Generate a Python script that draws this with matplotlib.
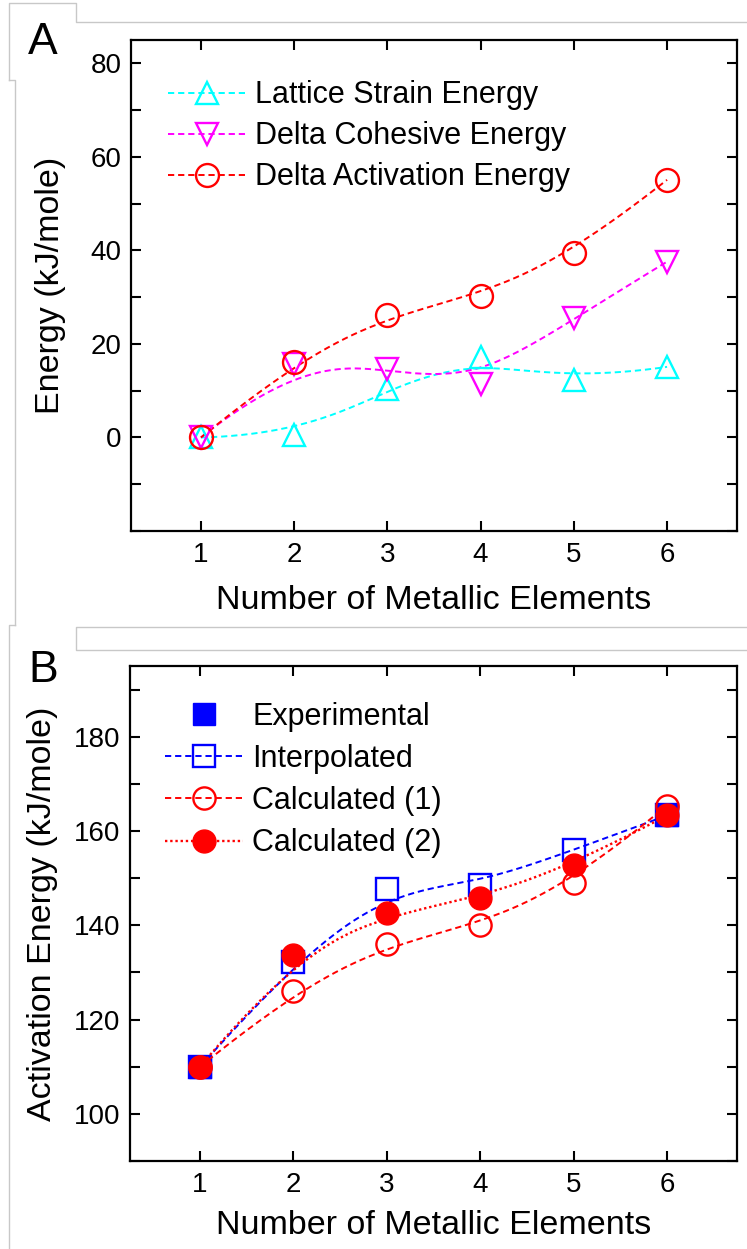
import numpy as np
import matplotlib
matplotlib.use("Agg")
import matplotlib.pyplot as plt
from matplotlib.lines import Line2D
from matplotlib.ticker import MultipleLocator

plt.rcParams['font.family'] = ['Liberation Sans', 'DejaVu Sans']

# ---------------- data ----------------
n_elements = [1, 2, 3, 4, 5, 6]

# Panel A
lattice_strain = [0.0, 0.5, 10.4, 17.2, 12.2, 15.1]
delta_cohesive = [0.0, 15.8, 14.7, 11.5, 25.5, 37.6]
delta_activation = [0.0, 16.2, 26.2, 30.3, 39.4, 55.1]
labels_a = ["Lattice Strain Energy", "Delta Cohesive Energy", "Delta Activation Energy"]

# Panel B
exp_x = [1, 6]
experimental = [110.0, 163.3]
interpolated = [110.0, 132.2, 147.8, 148.5, 156.0, 163.3]
calculated_1 = [110.0, 126.0, 136.1, 140.0, 149.0, 165.4]
calculated_2 = [110.0, 133.6, 142.5, 145.7, 152.8, 163.3]
labels_b = ["Experimental", "Interpolated", "Calculated (1)", "Calculated (2)"]


def bspline(xs, ys, npts=300, k=3):
    """Clamped uniform cubic B-spline curve using the points as control points."""
    P = np.column_stack([np.asarray(xs, float), np.asarray(ys, float)])
    m = len(P)
    knots = np.concatenate([[0] * k, np.arange(0, m - k + 1), [m - k] * k]).astype(float)
    t = np.linspace(0, m - k, npts)
    t[-1] -= 1e-9

    def basis(i, p, tt):
        if p == 0:
            return np.where((knots[i] <= tt) & (tt < knots[i + 1]), 1.0, 0.0)
        out = np.zeros_like(tt)
        d1 = knots[i + p] - knots[i]
        d2 = knots[i + p + 1] - knots[i + 1]
        if d1 > 0:
            out += (tt - knots[i]) / d1 * basis(i, p - 1, tt)
        if d2 > 0:
            out += (knots[i + p + 1] - tt) / d2 * basis(i + 1, p - 1, tt)
        return out

    B = np.array([basis(i, k, t) for i in range(m)])
    C = B.T @ P
    return C[:, 0], C[:, 1]


W, H = 747, 1249
fig = plt.figure(figsize=(W / 100, H / 100), dpi=100)

# background frame lines (document frame artifacts)
gray = '#c8c8c8'
def fline(xs, ys):
    fig.add_artist(Line2D([x / W for x in xs], [1 - y / H for y in ys],
                          color=gray, lw=1.0, transform=fig.transFigure))
fline([9, 9, 76, 76, 747], [80, 3, 3, 22, 22])
fline([9, 15, 15], [80, 80, 625])
fline([15, 9, 9], [625, 625, 1249])
fline([747, 76, 76, 747], [627, 627, 650, 650])

dash = (0, (3.2, 2.0))
dot = (0, (1.0, 1.2))
LW = 1.4
FS_TICK = 20
FS_LAB = 24.5
FS_LEG = 22
MEW = 1.7


def style_axis(ax, ylim, ymaj, ymin):
    ax.set_xlim(0.25, 6.75)
    ax.set_ylim(*ylim)
    ax.xaxis.set_major_locator(MultipleLocator(1))
    ax.yaxis.set_major_locator(MultipleLocator(ymaj))
    ax.yaxis.set_minor_locator(MultipleLocator(ymin))
    for s in ax.spines.values():
        s.set_linewidth(1.6)
    ax.tick_params(which='both', direction='in', top=True, right=True,
                   width=1.5, labelsize=FS_TICK)
    ax.tick_params(which='major', length=7)
    ax.tick_params(which='minor', length=7)
    ax.tick_params(axis='x', pad=8)
    ax.tick_params(axis='y', pad=7)


# ---------------- Panel A ----------------
axA = fig.add_axes([131 / W, 1 - 531 / H, (737 - 131) / W, (531 - 40) / H])
style_axis(axA, (-20, 85), 20, 10)
axA.set_yticks([0, 20, 40, 60, 80])

series_a = [
    (lattice_strain, 'cyan', '^', 16),
    (delta_cohesive, 'magenta', 'v', 16),
    (delta_activation, 'red', 'o', 16.5),
]
handles_a = []
for (vals, col, mk, ms), lab in zip(series_a, labels_a):
    sx, sy = bspline(n_elements, vals)
    axA.plot(sx, sy, color=col, lw=LW, ls=dash, zorder=2)
    axA.plot(n_elements, vals, ls='none', marker=mk, ms=ms, mfc='none',
             mec=col, mew=MEW, zorder=3)
    handles_a.append(Line2D([], [], color=col, lw=LW, ls=dash, marker=mk, ms=ms,
                            mfc='none', mec=col, mew=MEW))
axA.legend(handles_a, labels_a, loc='upper left', bbox_to_anchor=(0.061, 0.918),
           frameon=False, fontsize=FS_LEG, handlelength=2.55, handletextpad=0.3,
           labelspacing=0.36, borderpad=0, borderaxespad=0, numpoints=1)
axA.set_xlabel("Number of Metallic Elements", fontsize=FS_LAB)
axA.set_ylabel("Energy (kJ/mole)", fontsize=FS_LAB)
axA.xaxis.set_label_coords(0.5, -0.11)
axA.yaxis.set_label_coords(-0.108, 0.5)
fig.text(43 / W, 1 - 43 / H, "A", fontsize=32, ha='center', va='center')

# ---------------- Panel B ----------------
axB = fig.add_axes([130 / W, 1 - 1161 / H, (737 - 130) / W, (1161 - 666) / H])
style_axis(axB, (90, 195), 20, 10)
axB.set_yticks([100, 120, 140, 160, 180])

axB.plot(exp_x, experimental, ls='none', marker='s', ms=15.5, color='blue', zorder=2)
sx, sy = bspline(n_elements, interpolated)
axB.plot(sx, sy, color='blue', lw=LW, ls=dash, zorder=3)
axB.plot(n_elements, interpolated, ls='none', marker='s', ms=15.5, mfc='none',
         mec='blue', mew=MEW, zorder=3)
sx, sy = bspline(n_elements, calculated_1)
axB.plot(sx, sy, color='red', lw=LW, ls=dash, zorder=4)
axB.plot(n_elements, calculated_1, ls='none', marker='o', ms=16, mfc='none',
         mec='red', mew=MEW, zorder=4)
sx, sy = bspline(n_elements, calculated_2)
axB.plot(sx, sy, color='red', lw=LW + 0.3, ls=dot, zorder=5)
axB.plot(n_elements, calculated_2, ls='none', marker='o', ms=16.5, color='red', zorder=5)

handles_b = [
    Line2D([], [], ls='none', marker='s', ms=15.5, color='blue'),
    Line2D([], [], color='blue', lw=LW, ls=dash, marker='s', ms=15.5, mfc='none',
           mec='blue', mew=MEW),
    Line2D([], [], color='red', lw=LW, ls=dash, marker='o', ms=16, mfc='none',
           mec='red', mew=MEW),
    Line2D([], [], color='red', lw=LW + 0.3, ls=dot, marker='o', ms=16.5),
]
axB.legend(handles_b, labels_b, loc='upper left', bbox_to_anchor=(0.058, 0.928),
           frameon=False, fontsize=FS_LEG, handlelength=2.55, handletextpad=0.3,
           labelspacing=0.4, borderpad=0, borderaxespad=0, numpoints=1)
axB.set_xlabel("Number of Metallic Elements", fontsize=FS_LAB)
axB.set_ylabel("Activation Energy (kJ/mole)", fontsize=FS_LAB)
axB.xaxis.set_label_coords(0.5, -0.1)
axB.yaxis.set_label_coords(-0.118, 0.5)
fig.text(43 / W, 1 - 670 / H, "B", fontsize=32, ha='center', va='center')

fig.savefig("out.png", dpi=100)
